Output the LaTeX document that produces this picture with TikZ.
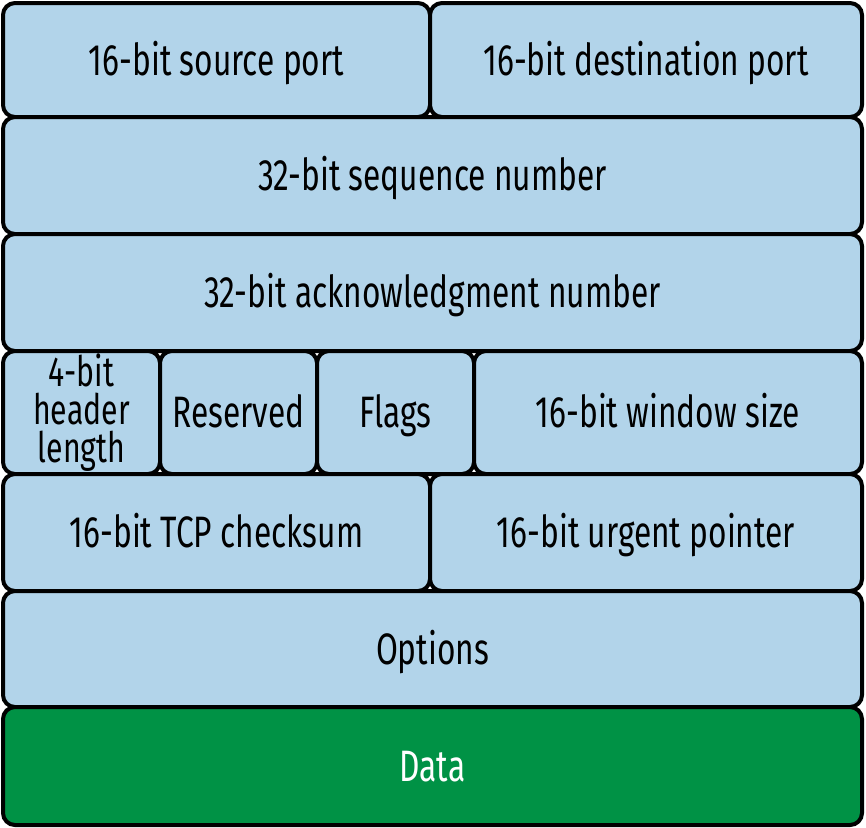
\documentclass[tikz,border=0pt]{standalone}
\usepackage{fontspec}
\setmainfont[FakeStretch=0.72]{Fira Sans}
\definecolor{fieldblue}{HTML}{B2D4EA}
\definecolor{datagreen}{HTML}{009245}

\begin{document}
\begin{tikzpicture}[x=0.5pt,y=-0.5pt,
    field/.style={draw=black,line width=2pt,rounded corners=6pt,fill=fieldblue},
    fieldtext/.style={font=\fontsize{22}{26}\selectfont,text=black,inner sep=0pt,
      text height=15pt,text depth=0pt},
    smalltext/.style={font=\fontsize{21}{19}\selectfont,align=center,inner sep=0pt}]
  \useasboundingbox (0,0) rectangle (866,827);
  % first row: ports
  \draw[field] (3,3) rectangle (430,117) node[midway,fieldtext] (srcport) {16-bit source port};
  \draw[field] (430,3) rectangle (862,117) node[midway,fieldtext] (dstport) {16-bit destination port};
  % sequence and acknowledgment
  \draw[field] (3,117) rectangle (862,234) node[midway,fieldtext] (seqnum) {32-bit sequence number};
  \draw[field] (3,234) rectangle (862,351) node[midway,fieldtext] (acknum) {32-bit acknowledgment number};
  % header length, reserved, flags, window
  \draw[field] (3,351) rectangle (160,474) node[midway,smalltext] (hdrlen) {4-bit\\header\\length};
  \draw[field] (160,351) rectangle (317,474) node[midway,fieldtext] (reserved) {Reserved};
  \draw[field] (317,351) rectangle (474,474) node[midway,fieldtext] (flags) {Flags};
  \draw[field] (474,351) rectangle (862,474) node[midway,fieldtext] (window) {16-bit window size};
  % checksum and urgent pointer
  \draw[field] (3,474) rectangle (430,591) node[midway,fieldtext] (checksum) {16-bit TCP checksum};
  \draw[field] (430,474) rectangle (862,591) node[midway,fieldtext] (urgent) {16-bit urgent pointer};
  % options and data
  \draw[field] (3,591) rectangle (862,707) node[midway,fieldtext] (options) {Options};
  \draw[field,fill=datagreen] (3,707) rectangle (862,825) node[midway,fieldtext,text=white] (data) {Data};
\end{tikzpicture}
\end{document}
